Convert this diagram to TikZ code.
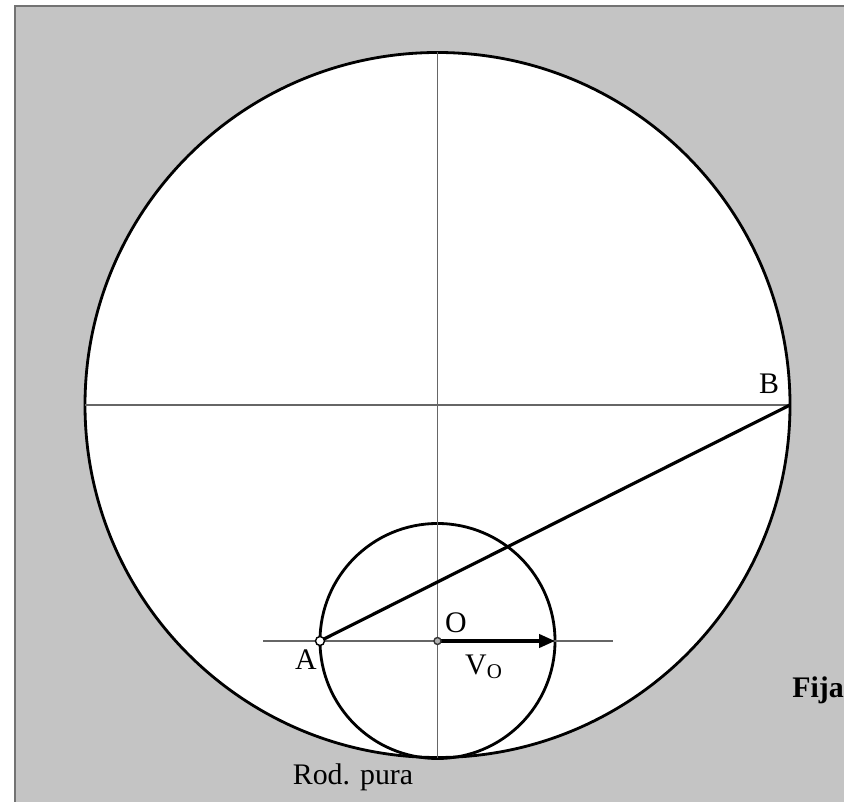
\documentclass[tikz,border=0pt]{standalone}
\usepackage{fontspec}
\setmainfont{Liberation Serif}
\usetikzlibrary{arrows.meta}

\begin{document}
\begin{tikzpicture}[x=0.02cm, y=0.02cm, font=\fontsize{17}{20}\selectfont,
		axis/.style={draw=gray!80!black, line width=0.6pt},
		rim/.style={draw=black, line width=1.6pt},
		lbl/.style={inner sep=0pt}]
		\useasboundingbox (0,0) rectangle (844,801);
		\clip (0,0) rectangle (844,801);
		
		% Background
		\fill[white] (0,0) rectangle (844,801);
		\filldraw[fill=black!23, draw=black!55, line width=0.8pt] (15,-20) rectangle (870,795);
		
		% Points
		\coordinate (C) at (437.5,396);
		\coordinate (O) at (437.5,160);
		\coordinate (A) at (320,160);
		\coordinate (B) at (790,396);
		\coordinate (E) at (555,160);
		
		% Circles
		\filldraw[rim, fill=white] (C) circle (352.5);
		\draw[rim] (O) circle (117.5);
		
		% Axes
		\draw[axis] (85,396) -- (B);
		\draw[axis] (437.5,748.5) -- (437.5,43.5);
		\draw[axis] (263,160) -- (613,160);
		
		% Segment and velocity
		\draw[black, line width=1.8pt] (A) -- (B);
		\draw[black, line width=1.8pt, -{Triangle[length=9pt,width=7.5pt]}] (O) -- (E);
		\filldraw[fill=black!30, draw=black!80, line width=0.8pt] (O) circle (3.5);
		\filldraw[fill=white, draw=black, line width=0.8pt] (A) circle (4.5);
		
		% Labels
		\node[lbl] (labO) at (456,178) {O};
		\node[lbl] (labA) at (306,141) {A};
		\node[lbl] (labB) at (769,417) {B};
		\node[lbl] (labV) at (484,134) {V\textsubscript{O}};
		\node[lbl] (labR) at (353,24) {Rod. pura};
		\node[lbl, anchor=base west] (labF) at (792,104) {\bfseries Fija};
	\end{tikzpicture}
\end{document}
